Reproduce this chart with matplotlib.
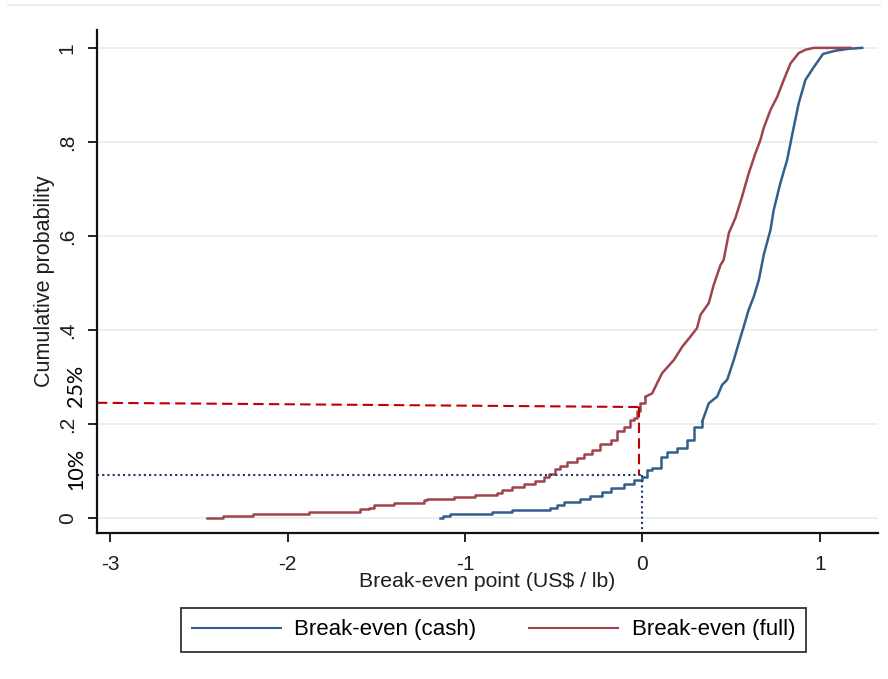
import matplotlib
matplotlib.use("Agg")
import matplotlib.pyplot as plt
from matplotlib.lines import Line2D

plt.rcParams['font.family'] = ['Liberation Sans', 'DejaVu Sans']
plt.rcParams['axes.unicode_minus'] = False

# ECDF of break-even point, full cost
full_x = [-2.455, -2.365, -2.195, -1.882, -1.594, -1.543, -1.511, -1.399, -1.233, -1.214,
          -1.064, -0.942, -0.819, -0.791, -0.735, -0.669, -0.603, -0.557, -0.528, -0.491,
          -0.462, -0.425, -0.368, -0.331, -0.284, -0.237, -0.180, -0.143, -0.105, -0.068,
          -0.049, -0.030, -0.011, 0.017, 0.055, 0.083, 0.111, 0.177, 0.224, 0.271,
          0.308, 0.327, 0.374, 0.402, 0.440, 0.458, 0.487, 0.524, 0.562, 0.599,
          0.637, 0.665, 0.684, 0.722, 0.760, 0.797, 0.835, 0.881, 0.919, 0.966, 1.173]
full_p = [0.0, 0.004, 0.009, 0.013, 0.018, 0.022, 0.027, 0.032, 0.038, 0.040,
          0.045, 0.048, 0.053, 0.060, 0.065, 0.072, 0.079, 0.087, 0.093, 0.104,
          0.111, 0.120, 0.127, 0.136, 0.145, 0.157, 0.166, 0.184, 0.194, 0.209,
          0.212, 0.228, 0.244, 0.258, 0.265, 0.287, 0.308, 0.336, 0.364, 0.386,
          0.404, 0.432, 0.457, 0.496, 0.538, 0.549, 0.606, 0.638, 0.684, 0.733,
          0.776, 0.804, 0.830, 0.868, 0.896, 0.932, 0.967, 0.989, 0.996, 1.0, 1.0]

# ECDF of break-even point, cash cost
cash_x = [-1.139, -1.124, -1.083, -0.848, -0.735, -0.519, -0.481, -0.444, -0.350, -0.293,
          -0.227, -0.180, -0.105, -0.049, -0.002, 0.027, 0.055, 0.102, 0.139, 0.196,
          0.252, 0.289, 0.337, 0.374, 0.421, 0.449, 0.478, 0.515, 0.543, 0.571,
          0.599, 0.628, 0.656, 0.684, 0.722, 0.740, 0.778, 0.816, 0.844, 0.881,
          0.919, 0.966, 1.018, 1.088, 1.162, 1.239]
cash_p = [0.0, 0.004, 0.009, 0.012, 0.017, 0.022, 0.028, 0.033, 0.040, 0.047,
          0.055, 0.063, 0.072, 0.081, 0.088, 0.102, 0.106, 0.130, 0.141, 0.148,
          0.166, 0.194, 0.205, 0.244, 0.258, 0.283, 0.294, 0.336, 0.372, 0.407,
          0.443, 0.471, 0.506, 0.560, 0.613, 0.655, 0.713, 0.762, 0.815, 0.882,
          0.932, 0.959, 0.987, 0.994, 0.998, 1.0]

# hand-drawn marker lines
full_mark_y = [0.245, 0.236]   # slightly sloped in the picture
full_mark_x = -0.017
cash_mark_y = 0.0915
cash_mark_x = 0.0

x_ticks = [-3, -2, -1, 0, 1]
y_ticks = [0, 0.2, 0.4, 0.6, 0.8, 1.0]
y_ticklabels = ["0", ".2", ".4", ".6", ".8", "1"]

W, H = 888, 679
fig = plt.figure(figsize=(W / 100, H / 100), dpi=100)
ax = fig.add_axes([97 / W, 1 - 533 / H, 781 / W, 503 / H])

xmin, xmax = -3.075, 1.328
ymin, ymax = -0.032, 1.038
ax.set_xlim(xmin, xmax)
ax.set_ylim(ymin, ymax)

blue = '#31608c'
red = '#a0434d'
txt = '#1e1e1e'

for yt in y_ticks:
    ax.axhline(yt, color='#e7eff1', lw=1.3, zorder=0)


def draw_ecdf(xs, ps, color, label, steep_from):
    # tail as steps, steep part as a plain line (the steps there are tiny)
    k = next(i for i, p in enumerate(ps) if p >= steep_from)
    ax.plot(xs[:k + 1], ps[:k + 1], drawstyle='steps-post', color=color, lw=1.8,
            label=label)
    ax.plot(xs[k:], ps[k:], color=color, lw=1.8)


draw_ecdf(cash_x, cash_p, blue, 'Break-even (cash)', 0.2)
draw_ecdf(full_x, full_p, red, 'Break-even (full)', 0.25)

# marker lines
ax.plot([xmin, full_mark_x], full_mark_y, color='#c00000', lw=1.5, ls=(0, (5, 2.5)))
ax.plot([full_mark_x, full_mark_x], [full_mark_y[1], cash_mark_y], color='#c00000', lw=1.5,
        ls=(0, (5, 2.5)))
ax.plot([xmin, cash_mark_x], [cash_mark_y, cash_mark_y], color='#1f3570', lw=1.5, ls=(0, (1, 1.5)))
ax.plot([cash_mark_x, cash_mark_x], [cash_mark_y, ymin], color='#1f3570', lw=1.5, ls=(0, (1, 1.5)))

for s in ['top', 'right']:
    ax.spines[s].set_visible(False)
for s in ['left', 'bottom']:
    ax.spines[s].set_color('#111111')
    ax.spines[s].set_linewidth(1.6)

ax.set_xticks(x_ticks)
ax.set_xticklabels([str(t) for t in x_ticks])
ax.set_yticks(y_ticks)
ax.set_yticklabels(y_ticklabels, rotation=90, va='center')
ax.tick_params(axis='both', length=6.5, width=1.3, color='#111111', labelsize=15,
               labelcolor=txt)
ax.tick_params(axis='x', pad=9)
ax.tick_params(axis='y', pad=8)

ax.set_xlabel('Break-even point (US$ / lb)', fontsize=15.3, color=txt, va='center')
ax.xaxis.set_label_coords(0.5, -0.096)
ax.set_ylabel('Cumulative probability', fontsize=15.5, color=txt, va='center')
ax.yaxis.set_label_coords(-0.0666, 0.501)

fig.text(76 / W, 1 - 386 / H, '25%', rotation=90, ha='center', va='center', fontsize=15.5,
         family=['Lato', 'DejaVu Sans'], color='black')
fig.text(76 / W, 1 - 469 / H, '10%', rotation=90, ha='center', va='center', fontsize=15.5,
         family=['Lato', 'DejaVu Sans'], color='black')

fig.add_artist(Line2D([8 / W, 880 / W], [1 - 5 / H, 1 - 5 / H], color='#e8eff2', lw=1.5))

leg = fig.legend(loc='center', bbox_to_anchor=(493.5 / W, 1 - 630 / H), ncol=2, frameon=True,
                 fancybox=False, edgecolor='black', fontsize=16, handlelength=4.0,
                 handletextpad=0.6, columnspacing=2.4, borderpad=0.5)
leg.get_frame().set_linewidth(1.3)
for line in leg.get_lines():
    line.set_linewidth(1.5)

fig.savefig('out.png', dpi=100)
